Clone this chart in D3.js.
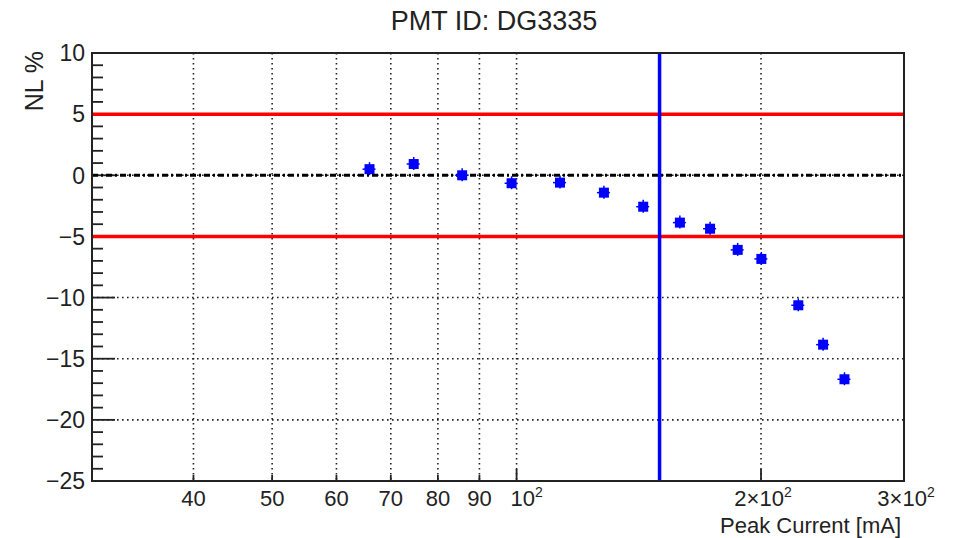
<!DOCTYPE html>
<html>
<head>
<meta charset="utf-8">
<script src="https://cdn.jsdelivr.net/npm/d3@7"></script>
<style>
  body { margin: 0; background: #fff; }
  svg { font-family: "Liberation Sans", Arial, sans-serif; }
</style>
</head>
<body>
<svg width="955" height="538"></svg>
<script>
// data
var current = [65.9, 74.7, 85.7, 98.6, 113.1, 128.1, 143.2, 158.9, 173.1, 187.2, 200.2, 222.3, 238.5, 253.4];
var nl = [0.5, 0.92, 0.0, -0.65, -0.6, -1.42, -2.57, -3.87, -4.37, -6.1, -6.84, -10.63, -13.85, -16.68];
var yTicks = [-25, -20, -15, -10, -5, 0, 5, 10];
var xTicks = [40, 50, 60, 70, 80, 90, 100, 200, 300];
var limits = [5, -5];
var cutCurrent = 150;

var svg = d3.select("svg"),
    margin = {top: 53, right: 51, bottom: 57, left: 92},
    width = +svg.attr("width") - margin.left - margin.right,
    height = +svg.attr("height") - margin.top - margin.bottom,
    g = svg.append("g").attr("transform", "translate(" + margin.left + "," + margin.top + ")");

var x = d3.scaleLog().domain([30, 300]).range([0, width]);
var y = d3.scaleLinear().domain([-25, 10]).range([height, 0]);

// grille pointillee
g.append("g").selectAll("line")
    .data(xTicks.filter(function(d) { return d < 300; }))
    .enter().append("line")
    .attr("x1", x).attr("x2", x)
    .attr("y1", 0).attr("y2", height)
    .attr("stroke", "#222").attr("stroke-width", 1.6)
    .attr("stroke-dasharray", "1.6,3.4");

g.append("g").selectAll("line")
    .data(yTicks.filter(function(d) { return d > -25 && d < 10; }))
    .enter().append("line")
    .attr("x1", 0).attr("x2", width)
    .attr("y1", y).attr("y2", y)
    .attr("stroke", "#222").attr("stroke-width", 1.6)
    .attr("stroke-dasharray", "1.6,3.4");

// axe y : ticks majeurs + mineurs
var yMinor = d3.range(-25, 10.01, 1);
g.append("g").selectAll("line")
    .data(yMinor)
    .enter().append("line")
    .attr("x1", 0)
    .attr("x2", function(d) { return d % 5 === 0 ? 23 : 11; })
    .attr("y1", y).attr("y2", y)
    .attr("stroke", "#222").attr("stroke-width", 1.8);

g.append("g").selectAll("text")
    .data(yTicks)
    .enter().append("text")
    .attr("x", -7)
    .attr("y", y)
    .attr("dy", "0.36em")
    .attr("text-anchor", "end")
    .attr("font-size", 23)
    .attr("fill", "#222")
    .text(function(d) { return d < 0 ? "\u2212" + (-d) : d; });

// axe x : ticks
g.append("g").selectAll("line")
    .data(xTicks)
    .enter().append("line")
    .attr("x1", x).attr("x2", x)
    .attr("y1", height)
    .attr("y2", function(d) { return d === 100 || d === 200 || d === 300 ? height - 12 : height - 6; })
    .attr("stroke", "#222").attr("stroke-width", 1.8);

var xLab = g.append("g").selectAll("text")
    .data(xTicks)
    .enter().append("text")
    .attr("x", function(d) { return x(d) + (d === 100 ? 10 : d > 100 ? 2 : 0); })
    .attr("y", height + 25)
    .attr("text-anchor", "middle")
    .attr("font-size", 22)
    .attr("fill", "#222");

xLab.each(function(d) {
    var t = d3.select(this);
    if (d < 100) { t.text(d); return; }
    var m = d / 100;
    t.append("tspan").text(m === 1 ? "10" : m + "\u00d710");
    t.append("tspan").attr("dy", -9).attr("font-size", 14).text("2");
});

// lignes de reference
g.append("line")
    .attr("x1", 0).attr("x2", width)
    .attr("y1", y(0)).attr("y2", y(0))
    .attr("stroke", "#000").attr("stroke-width", 3)
    .attr("stroke-dasharray", "6,3,2,3");

g.append("g").selectAll("line")
    .data(limits)
    .enter().append("line")
    .attr("x1", 0).attr("x2", width)
    .attr("y1", y).attr("y2", y)
    .attr("stroke", "#ff0000").attr("stroke-width", 3.5);

g.append("line")
    .attr("x1", x(cutCurrent)).attr("x2", x(cutCurrent))
    .attr("y1", 0).attr("y2", height)
    .attr("stroke", "#0000ff").attr("stroke-width", 3.5);

// points (carres pleins avec petites barres d'erreur)
var pts = g.append("g").selectAll("g")
    .data(current.map(function(c, i) { return {c: c, v: nl[i]}; }))
    .enter().append("g")
    .attr("transform", function(d) { return "translate(" + x(d.c) + "," + y(d.v) + ")"; });

pts.append("line")
    .attr("x1", -7).attr("x2", 6)
    .attr("stroke", "#0000ff").attr("stroke-width", 1.5);

pts.append("line")
    .attr("y1", -7).attr("y2", 6)
    .attr("stroke", "#0000ff").attr("stroke-width", 1.5);

pts.append("rect")
    .attr("x", -5).attr("y", -5)
    .attr("width", 10).attr("height", 10)
    .attr("fill", "#0000ff");

// cadre
g.append("rect")
    .attr("width", width).attr("height", height)
    .attr("fill", "none")
    .attr("stroke", "#222").attr("stroke-width", 2);

// titres
svg.append("text")
    .attr("x", 494).attr("y", 30)
    .attr("text-anchor", "middle")
    .attr("font-size", 27)
    .attr("fill", "#222")
    .text("PMT ID: DG3335");

svg.append("text")
    .attr("x", margin.left + width - 3)
    .attr("y", 533)
    .attr("text-anchor", "end")
    .attr("font-size", 22)
    .attr("fill", "#222")
    .text("Peak Current [mA]");

svg.append("text")
    .attr("transform", "translate(43,51) rotate(-90)")
    .attr("text-anchor", "end")
    .attr("font-size", 25)
    .attr("fill", "#222")
    .text("NL %");
</script>
</body>
</html>
